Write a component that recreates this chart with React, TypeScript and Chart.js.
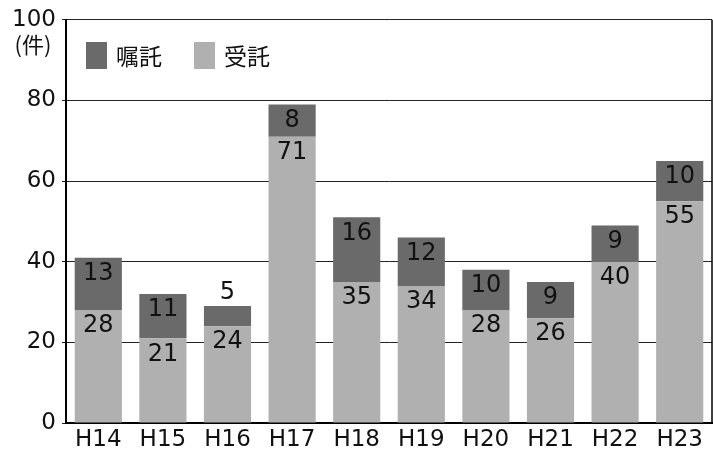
import React, { useEffect, useRef } from "react";
import { Chart, registerables } from "chart.js";

Chart.register(...registerables);

const categories = ["H14", "H15", "H16", "H17", "H18", "H19", "H20", "H21", "H22", "H23"];
const jutakuValues = [28, 21, 24, 71, 35, 34, 28, 26, 40, 55];
const shokutakuValues = [13, 11, 5, 8, 16, 12, 10, 9, 9, 10];
const yTicks = [0, 20, 40, 60, 80, 100];
const unitLabel = "(件)";
const seriesNames = ["受託", "嘱託"];

const FONT = "'DejaVu Sans', 'Noto Sans CJK JP', sans-serif";
const CJK = "'Noto Sans CJK JP', sans-serif";
const DARK = "#6a6a6a";
const LIGHT = "#b0b0b0";

const overlayPlugin = {
  id: "overlay",
  afterDatasetsDraw(chart: any) {
    const ctx = chart.ctx;
    const area = chart.chartArea;
    ctx.save();
    // right border
    ctx.strokeStyle = "#000";
    ctx.lineWidth = 1.5;
    ctx.beginPath();
    ctx.moveTo(area.right, area.top);
    ctx.lineTo(area.right, area.bottom);
    ctx.stroke();

    // data labels
    ctx.fillStyle = "#111";
    ctx.font = `24px ${FONT}`;
    ctx.textAlign = "center";
    ctx.textBaseline = "middle";
    chart.data.datasets.forEach((ds: any, di: number) => {
      const meta = chart.getDatasetMeta(di);
      meta.data.forEach((bar: any, i: number) => {
        const v = ds.data[i];
        const h = Math.abs(bar.base - bar.y);
        const y = h < 28 ? bar.y - 13 : bar.y + 16;
        ctx.fillText(String(v), bar.x, y);
      });
    });

    // legend inside plot
    const items = [
      { label: seriesNames[1], color: DARK, x: 86 },
      { label: seriesNames[0], color: LIGHT, x: 194 },
    ];
    ctx.textAlign = "left";
    ctx.font = `23px ${CJK}`;
    items.forEach((it) => {
      ctx.fillStyle = it.color;
      ctx.fillRect(it.x, 42, 21, 27);
      ctx.fillStyle = "#111";
      ctx.fillText(it.label, it.x + 30, 56);
    });

    // unit label
    ctx.textAlign = "center";
    ctx.font = `22px ${CJK}`;
    ctx.fillText(unitLabel, 33, 45);
    ctx.restore();
  },
};

export default function App() {
  const ref = useRef<HTMLCanvasElement>(null);
  useEffect(() => {
    document.body.style.margin = "0";
    const chart = new Chart(ref.current as HTMLCanvasElement, {
      type: "bar",
      data: {
        labels: categories,
        datasets: [
          {
            label: seriesNames[0],
            data: jutakuValues,
            backgroundColor: LIGHT,
            categoryPercentage: 1,
            barPercentage: 0.73,
          },
          {
            label: seriesNames[1],
            data: shokutakuValues,
            backgroundColor: DARK,
            categoryPercentage: 1,
            barPercentage: 0.73,
          },
        ],
      },
      options: {
        animation: false,
        responsive: false,
        devicePixelRatio: 1,
        layout: { padding: { top: 17, right: 1, left: 0, bottom: 0 } },
        plugins: { legend: { display: false }, tooltip: { enabled: false } },
        scales: {
          x: {
            stacked: true,
            grid: { display: false, drawTicks: false },
            border: { display: true, color: "#000", width: 2 },
            ticks: { color: "#111", font: { family: FONT, size: 23 }, padding: 3 },
            afterFit(scale: any) {
              scale.height = 32;
            },
          },
          y: {
            stacked: true,
            min: 0,
            max: 100,
            afterBuildTicks(scale: any) {
              scale.ticks = yTicks.map((v) => ({ value: v }));
            },
            grid: { color: "#222", lineWidth: 1, drawTicks: true, tickLength: 4 },
            border: { display: true, color: "#000", width: 2 },
            ticks: { color: "#111", font: { family: FONT, size: 23 }, padding: 6 },
            afterFit(scale: any) {
              scale.width = 66;
            },
          },
        },
      },
      plugins: [overlayPlugin],
    });
    return () => chart.destroy();
  }, []);
  return <canvas ref={ref} width={713} height={455} style={{ display: "block" }} />;
}
